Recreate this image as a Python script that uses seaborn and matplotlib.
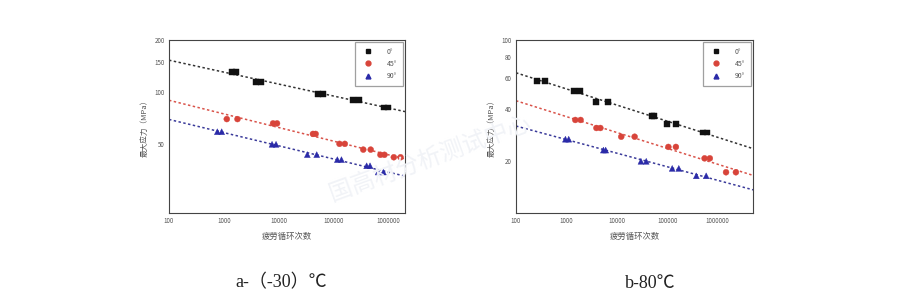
import numpy as np
import pandas as pd
import matplotlib
matplotlib.use("Agg")
import matplotlib.pyplot as plt
import matplotlib.ticker as mticker
from matplotlib.lines import Line2D
import seaborn as sns

sns.set_theme(style="white")
plt.rcParams['font.family'] = ['Noto Sans CJK SC', 'DejaVu Sans']

# ---------------- data ----------------
series = ["0°", "45°", "90°"]

# panel a: -30 C
a_x_0 = [1390, 1670, 3890, 4790, 52000, 65000, 229000, 286000, 815000, 980000]
a_y_0 = [130, 130, 114.5, 114.5, 97.7, 97.7, 89.9, 89.9, 81.5, 81.5]
a_x_45 = [1130, 1770, 7870, 9310, 42000, 47000, 128000, 160000, 347000, 474000, 713000, 845000, 1250000, 1660000]
a_y_45 = [69.8, 69.8, 65.9, 65.9, 57.3, 57.3, 50.2, 50.2, 46.5, 46.5, 43.4, 43.4, 42.0, 42.0]
a_x_90 = [760, 912, 7550, 8930, 33200, 49200, 117000, 139000, 400000, 461000, 647000, 809000]
a_y_90 = [59.0, 59.0, 49.9, 49.9, 43.5, 43.5, 40.7, 40.7, 37.5, 37.5, 34.5, 34.5]

# panel b: 80 C
b_x_0 = [266, 382, 1440, 1830, 3820, 6760, 49300, 54800, 100000, 148000, 508000, 608000]
b_y_0 = [58.2, 58.2, 50.9, 50.9, 43.6, 43.6, 36.4, 36.4, 32.8, 32.8, 29.2, 29.2]
b_x_45 = [1500, 1910, 3930, 4710, 12200, 22500, 105000, 148000, 548000, 697000, 1460000, 2290000]
b_y_45 = [34.5, 34.5, 31.0, 31.0, 27.6, 27.6, 24.1, 24.1, 20.7, 20.7, 17.2, 17.2]
b_x_90 = [955, 1110, 5400, 6000, 30000, 38200, 125000, 169000, 376000, 590000]
b_y_90 = [26.7, 26.7, 23.1, 23.1, 19.9, 19.9, 18.1, 18.1, 16.4, 16.4]

a_yticks = [50, 100, 150, 200]
b_yticks = [20, 40, 60, 80, 100]
xticks = [100, 1000, 10000, 100000, 1000000]

xlabel = "疲劳循环次数"
ylabel = "最大应力（MPa）"
captions = ["a-（-30）℃", "b-80℃"]
watermark = "国高材分析测试中心"

colors = {"0°": "#111111", "45°": "#d8443a", "90°": "#2a2aa8"}
line_colors = {"0°": "#333333", "45°": "#d9534a", "90°": "#3a3a9a"}
markers = {"0°": "s", "45°": "o", "90°": "^"}


def make_df(xs, ys):
    rows = []
    for s, x, y in zip(series, xs, ys):
        for xi, yi in zip(x, y):
            rows.append({"cycles": xi, "stress": yi, "angle": s})
    return pd.DataFrame(rows)


df_a = make_df([a_x_0, a_x_45, a_x_90], [a_y_0, a_y_45, a_y_90])
df_b = make_df([b_x_0, b_x_45, b_x_90], [b_y_0, b_y_45, b_y_90])

fig = plt.figure(figsize=(9, 2.96), dpi=100)
ax_a = fig.add_axes([169 / 900, 1 - 213 / 296, 236 / 900, 173 / 296])
ax_b = fig.add_axes([516 / 900, 1 - 213 / 296, 237 / 900, 173 / 296])


def draw(ax, df, xlim, ylim, yticks):
    ax.set_xscale("log")
    ax.set_yscale("log")
    # fitted lines
    xx = np.logspace(np.log10(xlim[0]), np.log10(xlim[1]), 50)
    for s in series:
        d = df[df.angle == s]
        k, b = np.polyfit(np.log10(d.cycles), np.log10(d.stress), 1)
        ax.plot(xx, 10 ** (b + k * np.log10(xx)), linestyle=(0, (1.6, 1.6)),
                color=line_colors[s], lw=1.1, zorder=1)
    sns.scatterplot(data=df, x="cycles", y="stress", hue="angle", style="angle",
                    palette=colors, markers=markers, s=18, linewidth=0.3,
                    edgecolor="face", ax=ax, legend=False, zorder=3)
    ax.set_xlim(*xlim)
    ax.set_ylim(*ylim)
    ax.set_xticks(xticks)
    ax.xaxis.set_major_formatter(mticker.FuncFormatter(lambda v, p: f"{int(round(v))}"))
    ax.xaxis.set_minor_locator(mticker.LogLocator(base=10, subs=np.arange(2, 10)))
    ax.xaxis.set_minor_formatter(mticker.NullFormatter())
    ax.set_yticks(yticks)
    ax.yaxis.set_major_formatter(mticker.FuncFormatter(lambda v, p: f"{int(round(v))}"))
    ax.yaxis.set_minor_locator(mticker.LogLocator(base=10, subs=np.arange(2, 10)))
    ax.yaxis.set_minor_formatter(mticker.NullFormatter())
    ax.tick_params(which="both", direction="in", colors="#444444", labelcolor="#555555",
                   labelsize=4.5, pad=3)
    ax.tick_params(which="major", length=3, width=0.6)
    ax.tick_params(which="minor", length=1.6, width=0.5)
    ax.set_xlabel(xlabel, fontsize=6, color="#555555", labelpad=5)
    ax.set_ylabel(ylabel, fontsize=5.5, color="#555555", labelpad=4)
    for sp in ax.spines.values():
        sp.set_color("#444444")
        sp.set_linewidth(0.8)
    handles = [Line2D([], [], marker=markers[s], color=colors[s], linestyle="none",
                      markersize=3.5) for s in series]
    leg = ax.legend(handles, series, loc="upper right", fontsize=5, frameon=True,
                    fancybox=False, borderpad=0.8, labelspacing=0.6, handletextpad=1.8,
                    borderaxespad=0.3, markerfirst=True)
    leg.get_frame().set_edgecolor("#888888")
    leg.get_frame().set_linewidth(0.9)
    for t in leg.get_texts():
        t.set_color("#555555")


draw(ax_a, df_a, (100, 2e6), (20, 200), a_yticks)
draw(ax_b, df_b, (100, 5e6), (10, 100), b_yticks)

fig.text(281 / 900, 1 - 283 / 296, captions[0], ha="center", va="center", fontsize=13,
         family=["Liberation Serif", "Noto Sans CJK SC"], color="#222222")
fig.text(650 / 900, 1 - 283 / 296, captions[1], ha="center", va="center", fontsize=13,
         family=["Liberation Serif", "Noto Sans CJK SC"], color="#222222")
fig.text(430 / 900, 1 - 158 / 296, watermark, ha="center", va="center", fontsize=17,
         rotation=20, color="#f1f3f7", zorder=0)

fig.savefig("out.png", dpi=100)
